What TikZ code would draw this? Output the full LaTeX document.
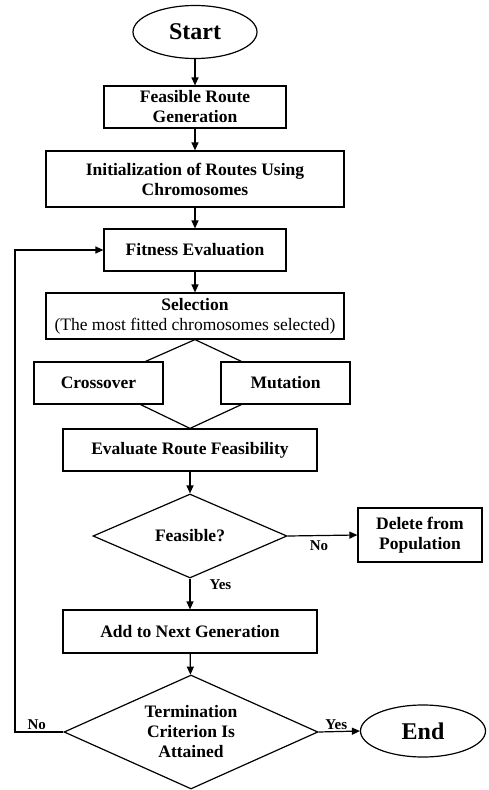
\documentclass[tikz,border=0pt]{standalone}
\usepackage{fontspec}
\setmainfont{Liberation Serif}
\usetikzlibrary{shapes.geometric,arrows.meta,calc}
\tikzset{
  box/.style={draw, line width=1.2pt, rectangle, inner sep=0pt, align=center, font=\fontsize{17.5}{20}\selectfont\bfseries},
  term/.style={draw, line width=1.2pt, ellipse, inner sep=0pt, font=\fontsize{24}{28}\selectfont\bfseries},
  dec/.style={draw, line width=1.2pt, diamond, inner sep=0pt, align=center, font=\fontsize{17.5}{20}\selectfont\bfseries},
  arr/.style={line width=1.2pt, -{Triangle[length=8pt,width=7pt]}},
  ln/.style={line width=1.2pt},
  lab/.style={font=\fontsize{15}{17}\selectfont\bfseries, inner sep=0pt}
}
\begin{document}
\begin{tikzpicture}[x=1pt,y=-1pt]
\useasboundingbox (0,0) rectangle (489,790);
\node[term, minimum width=124pt, minimum height=53pt] (start) at (195,32) {Start};
\node[box, minimum width=182pt, minimum height=42pt] (fr) at (195,107) {Feasible Route\\Generation};
\node[box, minimum width=298pt, minimum height=56pt] (init) at (195,179) {Initialization of Routes Using\\Chromosomes};
\node[box, minimum width=182pt, minimum height=42pt] (fit) at (195,250) {Fitness Evaluation};
\node[box, minimum width=298pt, minimum height=46pt] (sel) at (195,316) {Selection\\{\mdseries\fontsize{17.5}{21}\selectfont (The most fitted chromosomes selected)}};
\node[box, minimum width=129pt, minimum height=42pt] (cross) at (98.5,383) {Crossover};
\node[box, minimum width=129pt, minimum height=42pt] (mut) at (285.5,383) {Mutation};
\node[box, minimum width=254pt, minimum height=42pt] (eval) at (190,450) {Evaluate Route Feasibility};
\node[dec, aspect=2.3, minimum width=194pt, minimum height=84pt] (feas) at (190,536) {Feasible?};
\node[box, minimum width=124pt, minimum height=54pt] (del) at (420,535) {Delete from\\Population};
\node[box, minimum width=254pt, minimum height=43pt] (add) at (190,631.5) {Add to Next Generation};
\node[dec, aspect=2.2, minimum width=254pt, minimum height=114pt] (tc) at (191,732) {Termination\\Criterion Is\\Attained};
\node[term, minimum width=125pt, minimum height=52pt] (end) at (423,731) {End};
\coordinate (back) at (15,732);

\draw[arr] (start) -- (fr);
\draw[arr] (fr) -- (init);
\draw[arr] (init) -- (fit);
\draw[arr] (fit) -- (sel);
\draw[ln] ($(cross.north east)+(-18,0)$) -- (sel.south) -- ($(mut.north west)+(21,0)$);
\draw[ln] ($(cross.south east)+(-23,0)$) -- (eval.north) -- ($(mut.south west)+(21,0)$);
\draw[arr] (eval) -- (feas);
\draw[arr] (feas.east) -- (del.west) node[lab, pos=0.45, below=5pt] {No};
\draw[arr] (feas.south) -- (add.north) node[lab, pos=0.2, right=19pt] {Yes};
\draw[arr] (add) -- (tc);
\draw[arr] (tc.east) -- (end.west) node[lab, midway, above=1pt, xshift=-3pt] {Yes};
\draw[arr] (tc.west) -- (back) node[lab, pos=0.55, above=2pt] {No} |- (fit.west);
\end{tikzpicture}
\end{document}
